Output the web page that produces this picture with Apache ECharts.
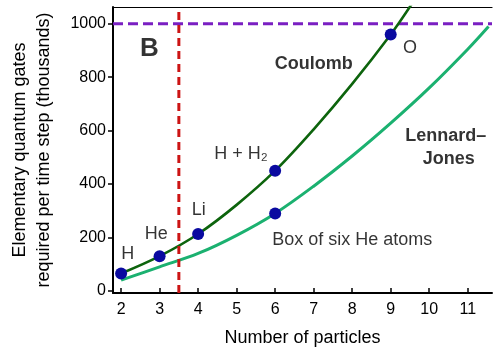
<!DOCTYPE html>
<html>
<head>
<meta charset="utf-8">
<script src="https://cdn.jsdelivr.net/npm/echarts@6/dist/echarts.min.js"></script>
<style>html,body{margin:0;padding:0;background:#fff;}#c{width:493px;height:352px;}</style>
</head>
<body>
<div id="c"></div>
<script>
// ---- data ----
var xTicks = [2, 3, 4, 5, 6, 7, 8, 9, 10, 11];
var yTicks = [0, 200, 400, 600, 800, 1000];
var coulombX = [2, 3, 4, 5, 6, 7, 8, 9, 9.55];
var coulombY = [65, 130, 213, 322, 450, 605, 775, 960, 1075];
var ljX = [2, 3, 4, 5, 6, 7, 8, 9, 10, 11, 11.54];
var ljY = [40, 90, 140, 208, 290, 392, 505, 628, 760, 905, 990];
var dotX = [2, 3, 4, 6, 9, 6];
var dotY = [65, 130, 213, 450, 960, 290];
var limitX = 3.5;
var limitY = 1000;
var annoX = [2.17, 2.915, 4.014, 5.113, 9.5, 7.0, 10.43, 10.505, 8.0, 2.736];
var annoY = [138, 213.6, 304, 512.7, 908, 849, 581, 492.4, 190.3, 906];
var annoText = ['H', 'He', 'Li', 'H + H\u2082', 'O', 'Coulomb', 'Lennard\u2013', 'Jones', 'Box of six He atoms', 'B'];
var annoStyle = ['n', 'n', 'n', 'n', 'n', 'b', 'b', 'b', 'n', 'big'];

var xMin = 1.79, xMax = 11.63, yMin = -8, yMax = 1063;
var FONT = 'Liberation Sans, Arial, Helvetica, sans-serif';

function zip(a, b) { return a.map(function (v, i) { return [v, b[i]]; }); }

var chart = echarts.init(document.getElementById('c'));
chart.setOption({
  animation: false,
  backgroundColor: '#ffffff',
  grid: { left: 107, right: 1, top: 7, bottom: 55 },
  xAxis: [{
    type: 'value', min: xMin, max: xMax, position: 'bottom',
    name: 'Number of particles', nameLocation: 'middle', nameGap: 36,
    nameTextStyle: { fontSize: 18, color: '#000', fontFamily: FONT },
    splitLine: { show: false },
    axisLine: { show: true, onZero: false, lineStyle: { color: '#000', width: 2 } },
    axisTick: { show: true, inside: true, length: 5, customValues: xTicks, lineStyle: { color: '#000', width: 1.5 } },
    axisLabel: { customValues: xTicks, fontSize: 16, color: '#000', fontFamily: FONT, margin: 9,
      formatter: function (v) { return String(v); } }
  }, {
    type: 'value', min: xMin, max: xMax, position: 'top',
    splitLine: { show: false },
    axisLine: { show: true, onZero: false, lineStyle: { color: '#000', width: 1.2 } },
    axisTick: { show: false }, axisLabel: { show: false }
  }],
  yAxis: {
    type: 'value', min: yMin, max: yMax,
    name: 'Elementary quantum gates\nrequired per time step (thousands)',
    nameLocation: 'middle', nameGap: 57, nameRotate: 90,
    nameTextStyle: { fontSize: 18, color: '#000', fontFamily: FONT, lineHeight: 24, align: 'center' },
    splitLine: { show: false },
    axisLine: { show: true, onZero: false, lineStyle: { color: '#000', width: 2 } },
    axisTick: { show: true, inside: false, length: 5, customValues: yTicks, lineStyle: { color: '#000', width: 1.5 } },
    axisLabel: { customValues: yTicks, fontSize: 16, color: '#000', fontFamily: FONT, margin: 7,
      formatter: function (v) { return String(v); } }
  },
  series: [
    {
      type: 'line', data: [[xMin, limitY], [xMax, limitY]], symbol: 'none', silent: true,
      lineStyle: { color: '#7a1fc2', width: 3, type: [10, 5] }, z: 1
    },
    {
      type: 'line', data: zip(ljX, ljY), smooth: 0.35, symbol: 'none', clip: true,
      lineStyle: { color: '#1bb170', width: 3 }, z: 2
    },
    {
      type: 'line', data: zip(coulombX, coulombY), smooth: 0.35, symbol: 'none', clip: true,
      lineStyle: { color: '#0d640d', width: 2.6 }, z: 3
    },
    {
      type: 'line', data: [[limitX, yMin], [limitX, yMax]], symbol: 'none', silent: true,
      lineStyle: { color: '#cc1414', width: 3, type: [8, 5] }, z: 4
    },
    {
      type: 'scatter', data: zip(dotX, dotY), symbol: 'circle', symbolSize: 12,
      itemStyle: { color: '#0a0aa0', opacity: 1 }, z: 5
    },
    {
      type: 'scatter', symbolSize: 0, silent: true, z: 6,
      data: annoX.map(function (x, i) {
        var st = annoStyle[i];
        return {
          value: [x, annoY[i]],
          label: {
            show: true, position: 'inside', formatter: annoText[i],
            fontFamily: FONT, color: '#000',
            fontSize: st === 'big' ? 26 : 18,
            fontWeight: st === 'n' ? 'normal' : 'bold'
          }
        };
      })
    }
  ]
});
</script>
</body>
</html>
